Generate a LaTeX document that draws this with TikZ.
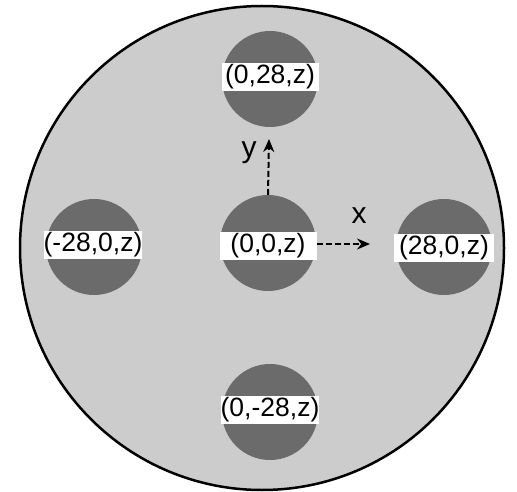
\documentclass[tikz,border=0pt]{standalone}
\usepackage{fontspec}
\setmainfont{Liberation Sans}
\usetikzlibrary{arrows.meta}
\definecolor{lightbg}{gray}{0.80}
\definecolor{darkdot}{gray}{0.42}
\tikzset{
  dot/.style={circle, fill=darkdot, minimum size=96pt, inner sep=0pt},
  coordlabel/.style={fill=white, minimum width=97pt, minimum height=28pt, inner sep=0pt, font=\fontsize{26.5}{26.5}\selectfont},
  axislabel/.style={font=\fontsize{30}{30}\selectfont, inner sep=0pt},
  axisarrow/.style={line width=2pt, dash pattern=on 6pt off 3pt, -{Stealth[length=13pt,width=11pt]}}
}
\begin{document}
\begin{tikzpicture}[x=1pt,y=-1pt]
\useasboundingbox (0,0) rectangle (517,492);
\node[circle, draw=black, line width=2.5pt, fill=lightbg, minimum size=484pt, inner sep=0pt] (disc) at (262,248) {};
\node[dot] (c0) at (268,243) {};
\node[dot] (ct) at (270,79) {};
\node[dot] (cl) at (94,247) {};
\node[dot] (cr) at (444,247) {};
\node[dot] (cb) at (270,412) {};
\node[coordlabel] (l0) at (268,246) {(0,0,z)};
\node[coordlabel] (lt) at (270,77) {(0,28,z)};
\node[coordlabel] (ll) at (93,245) {(-28,0,z)};
\node[coordlabel, minimum width=100pt] (lr) at (444,248) {(28,0,z)};
\node[coordlabel] (lb) at (270,410) {(0,-28,z)};
\coordinate (ytip) at (269,139);
\coordinate (xtip) at (370,244);
\draw[axisarrow] (c0.north) -- (ytip);
\draw[axisarrow] (l0.east |- xtip) -- (xtip);
\node[axislabel] (ylab) at (249,153) {y};
\node[axislabel] (xlab) at (359,216) {x};
\end{tikzpicture}
\end{document}
